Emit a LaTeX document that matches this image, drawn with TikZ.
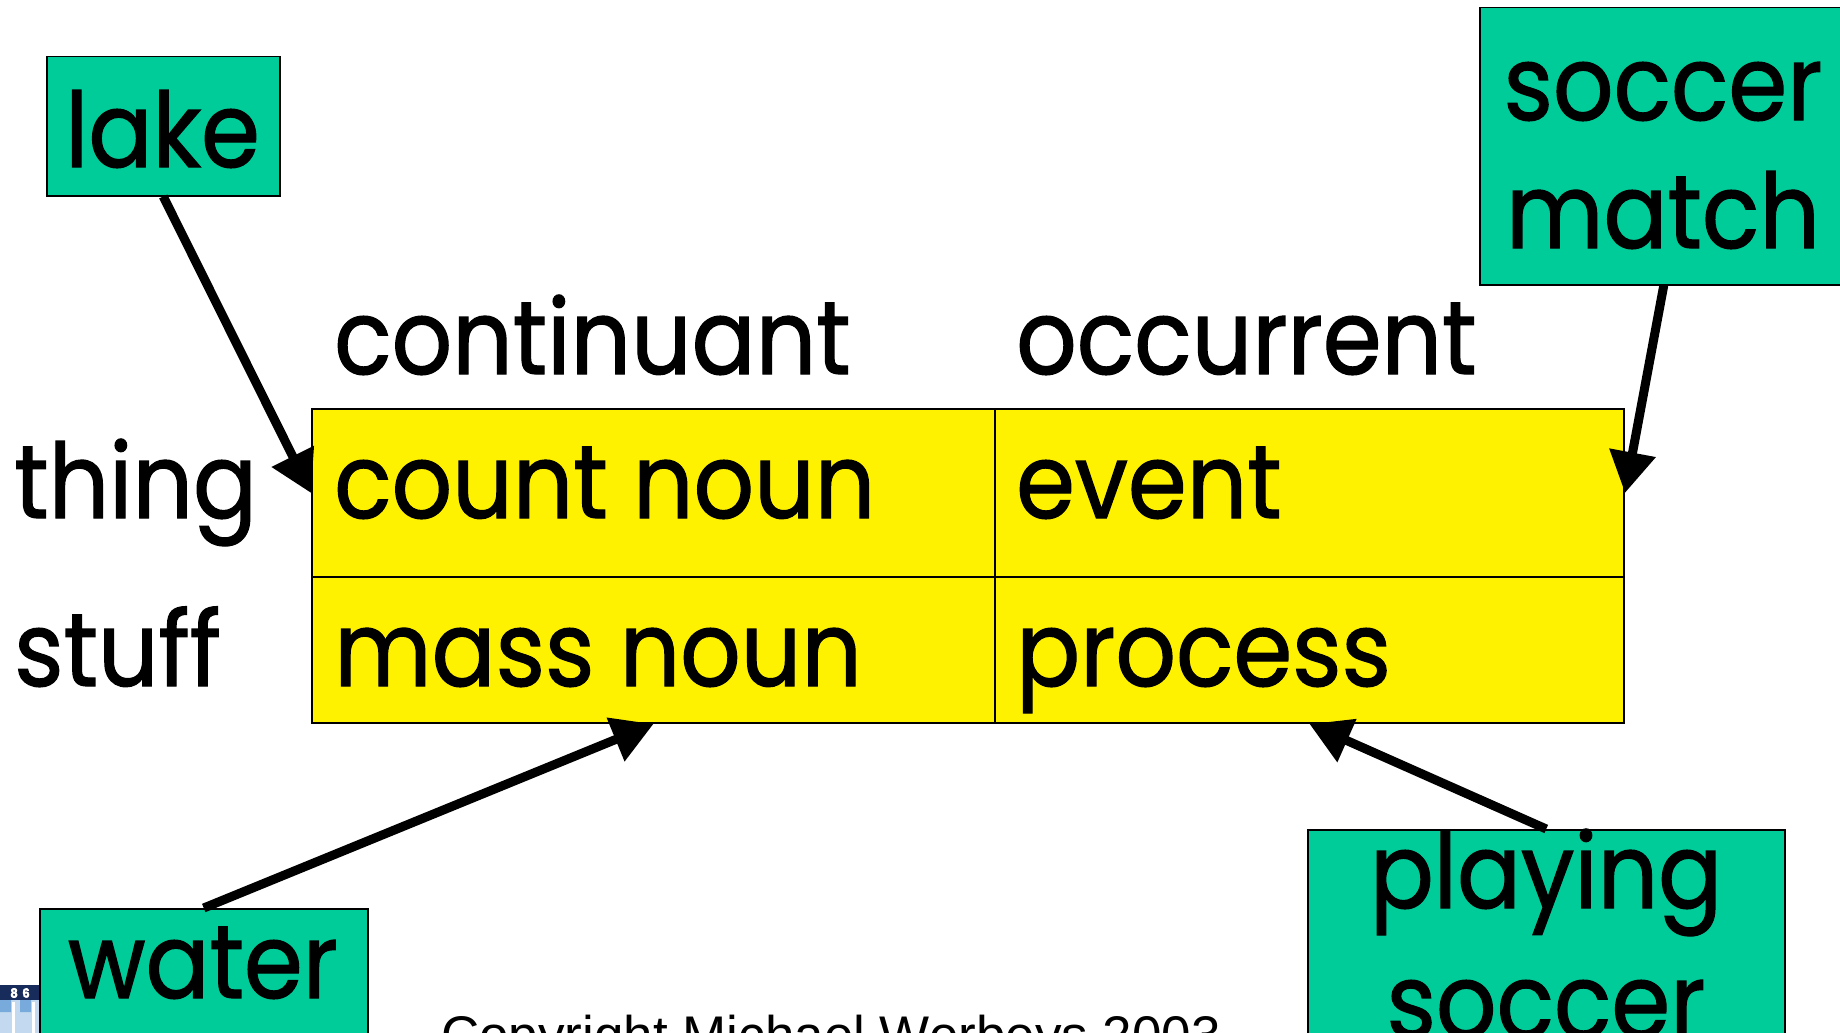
\documentclass[tikz,border=0pt]{standalone}
\usepackage{fontspec}
\setmainfont[FakeStretch=0.91,FakeBold=1.2]{Poppins}
\newfontfamily\copyfont{Liberation Sans}
\usepackage{xcolor}
\usepackage{tikz}
\usetikzlibrary{arrows.meta}

\definecolor{tagGreen}{RGB}{0,204,153}
\definecolor{crestBlue}{RGB}{24,44,92}
\definecolor{archBlue}{RGB}{120,170,220}
\newcommand\bigword{\fontsize{104}{126}\selectfont}

\tikzset{
  tag/.style={draw=black, fill=tagGreen, line width=1.5pt, inner sep=0pt, anchor=north west},
  cell/.style={draw=black, fill=yellow, line width=2pt, inner sep=0pt, anchor=north west},
  word/.style={font=\bigword, inner sep=0pt},
  link/.style={line width=9pt, -{Triangle[length=41pt,width=45pt]}},
}

\begin{document}
\begin{tikzpicture}[x=1pt,y=-1pt]
  \useasboundingbox (0,0) rectangle (1840,1033);

  % the 2x2 grid
  \node[cell, minimum width=683pt, minimum height=168pt] (cn) at (311,408) {};
  \node[cell, minimum width=629pt, minimum height=168pt] (ev) at (994,408) {};
  \node[cell, minimum width=683pt, minimum height=146pt] (mn) at (311,576) {};
  \node[cell, minimum width=629pt, minimum height=146pt] (pr) at (994,576) {};
  \node[word, anchor=base west] (cnT) at (334,518) {count noun};
  \node[word, anchor=base west] (evT) at (1016,518) {event};
  \node[word, anchor=base west] (mnT) at (334,686) {mass noun};
  \node[word, anchor=base west] (prT) at (1016,686) {process};

  % column and row headings
  \node[word, anchor=base west] (colC) at (334,374) {continuant};
  \node[word, anchor=base west] (colO) at (1016,374) {occurrent};
  \node[word, anchor=base west] (rowT) at (14,518) {thing};
  \node[word, anchor=base west] (rowS) at (14,686) {stuff};

  % example tags
  \node[tag, minimum width=233pt, minimum height=139pt] (lake) at (46,56) {};
  \node[word, anchor=base] (lakeT) at (162.5,167) {lake};
  \node[tag, minimum width=368pt, minimum height=277pt] (match) at (1479,7) {};
  \node[word, anchor=base] (matchT1) at (1663,120) {soccer};
  \node[word, anchor=base] (matchT2) at (1663,248) {match};
  \node[tag, minimum width=328pt, minimum height=200pt] (water) at (39,908) {};
  \node[word, anchor=base] (waterT) at (203,998) {water};
  \node[tag, minimum width=477pt, minimum height=250pt] (play) at (1307,829) {};
  \node[word, anchor=base] (playT1) at (1546,908) {playing};
  \node[word, anchor=base] (playT2) at (1546,1038) {soccer};

  \draw[link] (lake.south) -- (cn.west);
  \draw[link] (match.south) -- (ev.east);
  \draw[link] (water.north) -- (mn.south);
  \draw[link] (play.north) -- (pr.south);

  % crest in the corner
  \fill[archBlue!45!white] (0,1000) rectangle (39,1033);
  \foreach \xx in {0,20} {
    \fill[archBlue] (\xx,1000) rectangle (\xx+11,1012) arc[start angle=180, end angle=360, x radius=-5.5, y radius=6];
    \fill[white] (\xx+12,1002) rectangle (\xx+15,1033);
  }
  \fill[crestBlue] (0,985) rectangle (39,1000);
  \node[text=white, font=\bfseries\fontsize{13}{13}\selectfont, inner sep=0pt] (crest) at (20,993) {8\,\,6};

  \node[font=\copyfont\fontsize{53}{60}\selectfont, anchor=base west, inner sep=0pt] (copy) at (441,1053) {Copyright Michael Werbeys 2003};
\end{tikzpicture}
\end{document}
